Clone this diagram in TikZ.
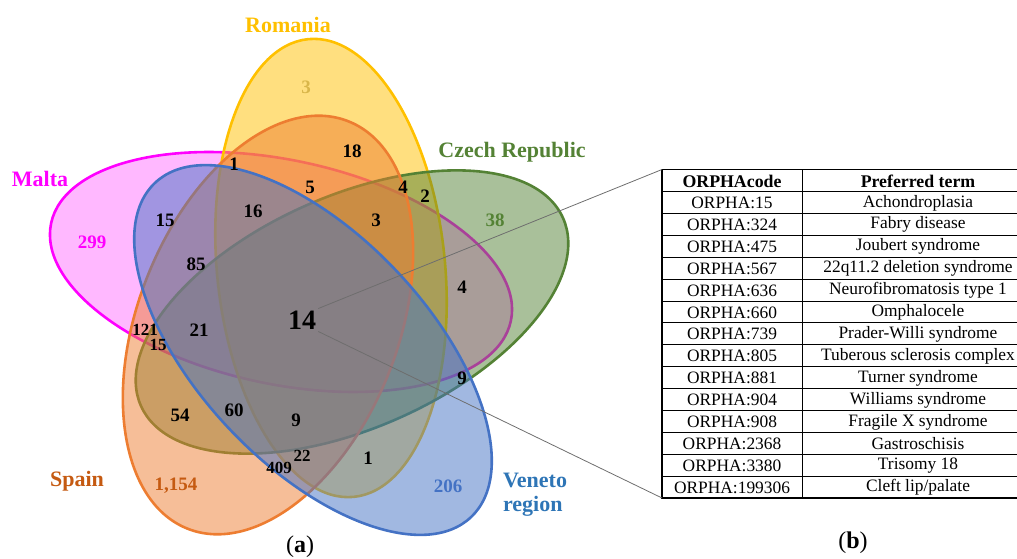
\documentclass[tikz,border=0pt]{standalone}
\usepackage{fontspec}
\setmainfont{Liberation Serif}
\usetikzlibrary{positioning}

\definecolor{romania}{HTML}{FFC000}
\definecolor{spain}{HTML}{ED7D31}
\definecolor{malta}{HTML}{FF00FF}
\definecolor{czech}{HTML}{548235}
\definecolor{veneto}{HTML}{4472C4}
\definecolor{spaintxt}{HTML}{C55A11}
\definecolor{venetotxt}{HTML}{2E75B6}
\definecolor{romaniatxt}{HTML}{D9B64A}
\definecolor{leadgray}{HTML}{6E6E6E}

\tikzset{
  venn/.style={line width=2.6pt, fill opacity=0.5},
  cnt/.style={font=\bfseries\fontsize{19}{19}\selectfont, inner sep=1pt},
  cntsmall/.style={font=\bfseries\fontsize{17}{17}\selectfont, inner sep=1pt},
  setname/.style={font=\bfseries\fontsize{22}{24}\selectfont, inner sep=1pt},
  cell/.style={font=\fontsize{17.4}{17.4}\selectfont, inner sep=0pt},
  headcell/.style={cell, font=\bfseries\fontsize{17.8}{17.8}\selectfont},
  leader/.style={leadgray, line width=0.8pt},
  sublabel/.style={font=\fontsize{24}{24}\selectfont, inner sep=1pt}
}

\begin{document}
\begin{tikzpicture}[x=1pt, y=-1pt]
    \useasboundingbox (0,0) rectangle (1017,559);
    \clip (0,0) rectangle (1017,559);

    % Five sets, drawn in this order
    \draw[venn, draw=malta, fill=malta, fill opacity=0.28, rotate around={-12:(281,272)}] (281,272) ellipse [x radius=235, y radius=112];
    \draw[venn, draw=romania, fill=romania, rotate around={95.7:(331,268)}] (331,268) ellipse [x radius=230, y radius=114];
    \draw[venn, draw=czech, fill=czech, rotate around={24:(352,312)}] (352,312) ellipse [x radius=231, y radius=116];
    \draw[venn, draw=spain, fill=spain, rotate around={68.5:(268,325)}] (268,325) ellipse [x radius=219, y radius=130];
    \draw[venn, draw=veneto, fill=veneto, rotate around={-46.6:(313,350)}] (313,350) ellipse [x radius=230, y radius=115];

    % Set names
    \node[setname, romania] (lRomania) at (288,25) {Romania};
    \node[setname, malta] (lMalta) at (40,179) {Malta};
    \node[setname, czech] (lCzech) at (512,152) {Czech Republic};
    \node[setname, spaintxt] (lSpain) at (77,481) {Spain};
    \node[setname, venetotxt, align=left] (lVeneto) at (535,495) {Veneto\\region};

    % Counts only in one set
    \node[cnt, romaniatxt] (vRo) at (306,87) {3};
    \node[cnt, malta] (vMa) at (92,242) {299};
    \node[cnt, czech] (vCz) at (495,220) {38};
    \node[cnt, spaintxt] (vSp) at (176,486) {1,154};
    \node[cnt, veneto] (vVe) at (448,486) {206};

    % Counts in overlaps
    \node[cnt] (v18) at (352,151) {18};
    \node[cnt] (v1a) at (234,164) {1};
    \node[cnt] (v5) at (310,187) {5};
    \node[cnt] (v4a) at (403,187) {4};
    \node[cnt] (v2) at (425,196) {2};
    \node[cnt] (v16) at (253,211) {16};
    \node[cnt] (v3) at (376,220) {3};
    \node[cnt] (v15a) at (165,220) {15};
    \node[cnt] (v85) at (196,264) {85};
    \node[cnt] (v4b) at (462,287) {4};
    \node[cntsmall] (v121) at (145,330) {121};
    \node[cnt] (v21) at (199,330) {21};
    \node[cntsmall] (v15b) at (158,345) {15};
    \node[cnt] (v9a) at (462,378) {9};
    \node[cnt] (v54) at (180,415) {54};
    \node[cnt] (v60) at (234,410) {60};
    \node[cnt] (v9b) at (296,420) {9};
    \node[cntsmall] (v22) at (302,456) {22};
    \node[cntsmall] (v409) at (279,468) {409};
    \node[cnt] (v1b) at (368,458) {1};
    \node[font=\bfseries\fontsize{28}{28}\selectfont, inner sep=2pt] (v14) at (302,320) {14};

    % Table of the 14 shared codes
    \coordinate (tabNW) at (662,169.5);
    \coordinate (tabSW) at (662,498);
    \foreach \i in {1,...,14}
        \draw[line width=0.8pt] (662,169.5+21.9*\i) -- (1045,169.5+21.9*\i);
    \draw[line width=0.8pt] (802,169.5) -- (802,498);
    \draw[line width=1.5pt] (tabNW) rectangle (1045,498);
    \node[headcell] (hCode) at (732,181) {ORPHAcode};
    \node[headcell] (hTerm) at (918,181) {Preferred term};
    \foreach \code/\term [count=\i] in {15/Achondroplasia, 324/Fabry disease,
        475/Joubert syndrome, 567/22q11.2 deletion syndrome,
        636/Neurofibromatosis type 1, 660/Omphalocele, 739/Prader-Willi syndrome,
        805/Tuberous sclerosis complex, 881/Turner syndrome, 904/Williams syndrome,
        908/Fragile X syndrome, 2368/Gastroschisis, 3380/Trisomy 18,
        199306/{Cleft lip/palate}}
    {
        \node[cell] (c\i) at (732,181+21.9*\i) {ORPHA:\code};
        \node[cell] (t\i) at (918,181+21.9*\i) {\term};
    }

    % Leaders from the centre to the table
    \draw[leader] (v14.north east) -- (tabNW);
    \draw[leader] (v14.south east) -- (tabSW);

    % Panel labels
    \node[sublabel] (pa) at (300,547) {(\textbf{a})};
    \node[sublabel] (pb) at (853,543) {(\textbf{b})};
\end{tikzpicture}
\end{document}
